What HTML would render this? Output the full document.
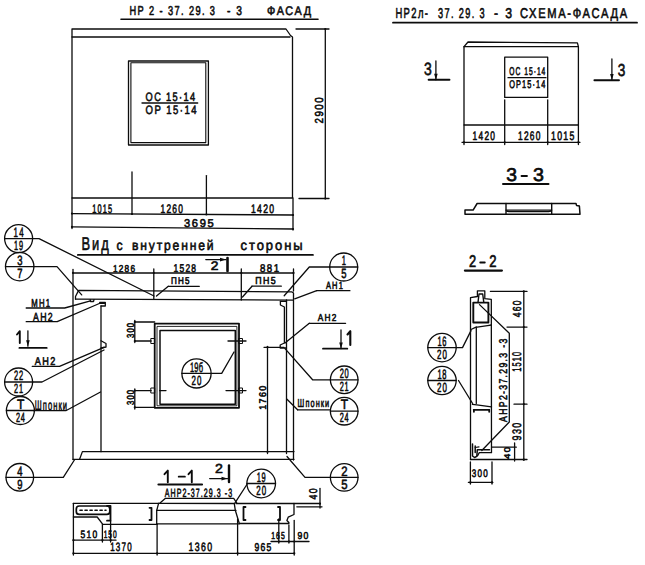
<!DOCTYPE html>
<html><head><meta charset="utf-8"><style>
html,body{margin:0;padding:0;background:#fff;}
svg{display:block;}
text{font-family:"Liberation Sans",sans-serif;fill:#0c0c0c;stroke:#0c0c0c;stroke-width:0.6px;vector-effect:non-scaling-stroke;text-rendering:geometricPrecision;}
</style></head><body>
<svg width="645" height="565" viewBox="0 0 645 565">
<rect width="645" height="565" fill="#fff"/>
<g fill="none" stroke="#0c0c0c" stroke-linejoin="round" stroke-linecap="round">
<text transform="translate(129.5,15.2) scale(0.717,1)" font-size="12.90" letter-spacing="1.93" font-weight="normal">НР 2 - 37. 29. 3</text>
<text transform="translate(227,15.2) scale(0.794,1)" font-size="12.90" letter-spacing="1.93" font-weight="normal">- 3</text>
<text transform="translate(267,14.9) scale(0.870,1)" font-size="12.46" letter-spacing="1.87" font-weight="normal">ФАСАД</text>
<polyline points="121,19.3 318,19.3" stroke-width="1.6"/>
<polyline points="72,198 72,29 286,29 290.5,35.5 292.5,37 292.5,198 72,198" stroke-width="1.3"/>
<polyline points="72,37 290,37" stroke-width="1.3"/>
<rect x="128.5" y="61" width="79.9" height="84" stroke-width="1.3" />
<rect x="130.9" y="62.8" width="74.9" height="79.8" stroke-width="1.1" />
<text transform="translate(145.6,101.2) scale(0.757,1)" font-size="12.17" letter-spacing="1.83" font-weight="normal">ОС 15·14</text>
<polyline points="142,103 197.7,103" stroke-width="1.3"/>
<text transform="translate(145.6,114) scale(0.785,1)" font-size="12.17" letter-spacing="1.83" font-weight="normal">ОР 15·14</text>
<polyline points="132,172 132,214" stroke-width="1.3"/>
<polyline points="206.4,175.6 206.4,214" stroke-width="1.3"/>
<polyline points="72,213.6 293,215" stroke-width="1.3"/>
<polyline points="72,226.9 293,229" stroke-width="1.3"/>
<polyline points="72,198 72,228.5" stroke-width="1.3"/>
<polyline points="293,198 293,230" stroke-width="1.3"/>
<circle cx="72" cy="213.6" r="1.1" fill="#0c0c0c" stroke="none"/>
<circle cx="132" cy="214" r="1.1" fill="#0c0c0c" stroke="none"/>
<circle cx="206.4" cy="214.5" r="1.1" fill="#0c0c0c" stroke="none"/>
<circle cx="293" cy="215" r="1.1" fill="#0c0c0c" stroke="none"/>
<circle cx="72" cy="226.9" r="1.1" fill="#0c0c0c" stroke="none"/>
<circle cx="293" cy="229" r="1.1" fill="#0c0c0c" stroke="none"/>
<text transform="translate(92.3,212.5) scale(0.599,1)" font-size="12.32" letter-spacing="1.85" font-weight="normal">1015</text>
<text transform="translate(160.5,212.5) scale(0.678,1)" font-size="12.32" letter-spacing="1.85" font-weight="normal">1260</text>
<text transform="translate(251,212.5) scale(0.699,1)" font-size="12.32" letter-spacing="1.85" font-weight="normal">1420</text>
<text transform="translate(184,226.5) scale(0.986,1)" font-size="11.30" letter-spacing="1.70" font-weight="normal">3695</text>
<polyline points="296,29 329,29" stroke-width="1.3"/>
<polyline points="299,198.5 329,198.5" stroke-width="1.3"/>
<polyline points="325.3,29 325.3,198.7" stroke-width="1.3"/>
<circle cx="325.3" cy="29" r="1.1" fill="#0c0c0c" stroke="none"/>
<circle cx="325.3" cy="198.5" r="1.1" fill="#0c0c0c" stroke="none"/>
<text transform="translate(322.5,123.5) rotate(-90) scale(0.842,1)" font-size="11.59" letter-spacing="1.74" font-weight="normal">2900</text>
<text transform="translate(395.4,18.3) scale(0.650,1)" font-size="14.49" letter-spacing="2.17" font-weight="normal">НР2л-</text>
<text transform="translate(438,18.3) scale(0.645,1)" font-size="14.20" letter-spacing="2.13" font-weight="normal">37. 29. 3</text>
<text transform="translate(494,18.3) scale(0.864,1)" font-size="14.20" letter-spacing="2.13" font-weight="normal">- 3</text>
<text transform="translate(520,18.3) scale(0.785,1)" font-size="14.20" letter-spacing="2.13" font-weight="normal">СХЕМА-ФАСАДА</text>
<polyline points="393,22.7 637,22.7" stroke-width="1.8"/>
<rect x="464" y="46.7" width="114.39999999999998" height="78.3" stroke-width="1.3" />
<polyline points="464,46.7 468,42 577.4,42.8 578.4,46.7" stroke-width="1.3"/>
<rect x="504.7" y="57.2" width="43.00000000000006" height="40.2" stroke-width="1.3" />
<text transform="translate(509.3,75.3) scale(0.592,1)" font-size="11.30" letter-spacing="1.70" font-weight="normal">ОС 15·14</text>
<polyline points="508,77.7 546,77.7" stroke-width="1.3"/>
<text transform="translate(509.3,88) scale(0.659,1)" font-size="11.16" letter-spacing="1.67" font-weight="normal">ОР15·14</text>
<polyline points="464,125 464,144.5" stroke-width="1.3"/>
<circle cx="464" cy="142.3" r="1.1" fill="#0c0c0c" stroke="none"/>
<polyline points="504.7,99.8 504.7,144.5" stroke-width="1.3"/>
<circle cx="504.7" cy="142.3" r="1.1" fill="#0c0c0c" stroke="none"/>
<polyline points="547.7,99.8 547.7,144.5" stroke-width="1.3"/>
<circle cx="547.7" cy="142.3" r="1.1" fill="#0c0c0c" stroke="none"/>
<polyline points="578.4,125 578.4,144.5" stroke-width="1.3"/>
<circle cx="578.4" cy="142.3" r="1.1" fill="#0c0c0c" stroke="none"/>
<polyline points="462,142.3 580,142.3" stroke-width="1.3"/>
<text transform="translate(472.6,140.4) scale(0.678,1)" font-size="12.32" letter-spacing="1.85" font-weight="normal">1420</text>
<text transform="translate(518,140.4) scale(0.681,1)" font-size="12.32" letter-spacing="1.85" font-weight="normal">1260</text>
<text transform="translate(551,140.4) scale(0.708,1)" font-size="12.32" letter-spacing="1.85" font-weight="normal">1015</text>
<text transform="translate(424,75.1) scale(0.785,1)" font-size="17.83" letter-spacing="0.00" font-weight="normal">3</text>
<polyline points="435.9,61 435.9,79.8" stroke-width="1.3"/>
<polygon points="434.09999999999997,73.8 437.7,73.8 435.9,79.8" fill="#0c0c0c" stroke="none"/>
<polyline points="428.6,79.8 449.5,79.8" stroke-width="1.9"/>
<polyline points="611.9,59 611.9,80" stroke-width="1.3"/>
<polygon points="610.1,74 613.6999999999999,74 611.9,80" fill="#0c0c0c" stroke="none"/>
<text transform="translate(617.8,76) scale(0.784,1)" font-size="17.39" letter-spacing="0.00" font-weight="normal">3</text>
<polyline points="594.4,80.3 619,80.3" stroke-width="1.9"/>
<text transform="translate(506.2,181.3) scale(1.040,1)" font-size="18.55" letter-spacing="0.00" font-weight="normal" style="stroke-width:0.7px">3</text>
<polyline points="521.5,176 527,176" stroke-width="1.8"/>
<text transform="translate(533,181.3) scale(1.060,1)" font-size="18.55" letter-spacing="0.00" font-weight="normal" style="stroke-width:0.7px">3</text>
<polyline points="503,184 548.5,184" stroke-width="2"/>
<polygon points="465,214.3 465,210.1 473.1,210.1 477.1,203.5 576,203.5 576.6,205.6 579.4,206.1 580,214.3" stroke-width="1.5"/>
<polyline points="506,203.5 506,214.3" stroke-width="1.4"/>
<polyline points="551.7,203.5 551.7,214.3" stroke-width="1.4"/>
<polyline points="506,210.1 551.7,210.1" stroke-width="1.4"/>
<polyline points="506.5,211 509,211.6 548.5,211.6 551,211" stroke-width="1.3"/>
<text transform="translate(469,267) scale(0.760,1)" font-size="16.96" letter-spacing="0.00" font-weight="normal" style="stroke-width:0.7px">2</text>
<polyline points="480.2,262.5 484.8,262.5" stroke-width="1.8"/>
<text transform="translate(489.3,267) scale(0.771,1)" font-size="16.96" letter-spacing="0.00" font-weight="normal" style="stroke-width:0.7px">2</text>
<polyline points="464.9,270.6 501.9,270.6" stroke-width="2.2"/>
<polyline points="470.5,459.5 470.5,297.7 477.4,296.5 477.4,290.8 484.8,290.8 484.8,298.7 491.3,299.3 491.5,452.7 479.3,452.7 477.5,455.8" stroke-width="1.3"/>
<polyline points="470.5,459.5 527,459.5" stroke-width="1.3"/>
<rect x="473.3" y="302.6" width="15.099999999999966" height="19.899999999999977" stroke-width="1.9" />
<polyline points="478,302.4 479,294 482.7,294 483.8,302.4" stroke-width="1.4"/>
<polyline points="471,329.5 475.5,327.3 487.5,325.6 491.3,325" stroke-width="1.3"/>
<polyline points="476.3,327 476.3,403.4" stroke-width="1.3"/>
<polyline points="479.5,304.6 509.3,333.3 509.3,422 481.8,450.5" stroke-width="1.3"/>
<text transform="translate(507.2,421.9) rotate(-90) scale(0.770,1)" font-size="11.30" letter-spacing="1.70" font-weight="normal">АНР2-37.29.3 -3</text>
<polyline points="490.4,291.4 527,291.4" stroke-width="1.3"/>
<polyline points="507,327.1 527,327.1" stroke-width="1.3"/>
<polyline points="514,404.2 527,404.2" stroke-width="1.3"/>
<polyline points="523.8,291.4 523.8,460" stroke-width="1.3"/>
<circle cx="523.8" cy="291.4" r="1.1" fill="#0c0c0c" stroke="none"/>
<circle cx="523.8" cy="327.1" r="1.1" fill="#0c0c0c" stroke="none"/>
<circle cx="523.8" cy="404.2" r="1.1" fill="#0c0c0c" stroke="none"/>
<circle cx="523.8" cy="459.7" r="1.1" fill="#0c0c0c" stroke="none"/>
<text transform="translate(520.7,317.2) rotate(-90) scale(0.732,1)" font-size="11.59" letter-spacing="1.74" font-weight="normal">460</text>
<text transform="translate(521,371.7) rotate(-90) scale(0.591,1)" font-size="12.46" letter-spacing="1.87" font-weight="normal">1510</text>
<text transform="translate(520.5,440.4) rotate(-90) scale(0.731,1)" font-size="12.32" letter-spacing="1.85" font-weight="normal">930</text>
<polyline points="491.7,447.2 516.3,447.2" stroke-width="1.3"/>
<polyline points="514.6,443 514.6,461" stroke-width="1.3"/>
<text transform="translate(510.4,459) rotate(-90) scale(1.150,1)" font-size="8.19" letter-spacing="1.33" font-weight="normal">40</text>
<text transform="translate(471.8,476.5) scale(0.743,1)" font-size="10.87" letter-spacing="1.63" font-weight="normal">300</text>
<polyline points="468.4,482.4 492.8,482.4" stroke-width="1.3"/>
<polyline points="470.4,462 470.4,484" stroke-width="1.3"/>
<polyline points="492,462 492,484" stroke-width="1.3"/>
<circle cx="470.4" cy="482.4" r="1.1" fill="#0c0c0c" stroke="none"/>
<circle cx="492" cy="482.4" r="1.1" fill="#0c0c0c" stroke="none"/>
<polyline points="472.4,404.3 476.8,404.9 491.5,406.8" stroke-width="1.3"/>
<polyline points="473.7,409.8 489.2,409.8" stroke-width="1.8"/>
<polyline points="489.2,409.8 489.2,411.8" stroke-width="1.8"/>
<polyline points="473.9,409.8 473.9,411.8" stroke-width="1.8"/>
<polyline points="472.5,444 472.5,456 474.5,457.5 476.8,456.3 477.3,449.8 489.5,449.8" stroke-width="1.5"/>
<polyline points="475.2,446 475.2,452.5" stroke-width="1.5"/>
<polyline points="475.2,447.5 479,446.8" stroke-width="1.2"/>
<circle cx="442" cy="347.6" r="14.2" stroke-width="1.3"/>
<polyline points="427.8,347.6 456.2,347.6" stroke-width="1.3"/>
<text transform="translate(437.5,345.8) scale(0.550,1)" font-size="13.62" letter-spacing="1.22" font-weight="normal">16</text>
<text transform="translate(437.0,358.8) scale(0.594,1)" font-size="13.33" letter-spacing="2.00" font-weight="normal">20</text>
<circle cx="442" cy="380.5" r="14.2" stroke-width="1.3"/>
<polyline points="427.8,380.5 456.2,380.5" stroke-width="1.3"/>
<text transform="translate(437.5,378.7) scale(0.550,1)" font-size="13.62" letter-spacing="1.22" font-weight="normal">18</text>
<text transform="translate(437.0,391.7) scale(0.594,1)" font-size="13.33" letter-spacing="2.00" font-weight="normal">20</text>
<polyline points="456.2,347.6 462.5,347.6 471,330.6" stroke-width="1.3"/>
<polyline points="458.5,380.5 472.6,403.5" stroke-width="1.3"/>
<text transform="translate(81.6,250) scale(0.695,1)" font-size="18.55" letter-spacing="2.78" font-weight="normal">Вид</text>
<text transform="translate(116.5,250) scale(0.888,1)" font-size="13.77" letter-spacing="0.00" font-weight="normal">с</text>
<text transform="translate(132,250) scale(0.880,1)" font-size="13.77" letter-spacing="2.07" font-weight="normal">внутренней</text>
<text transform="translate(240.5,250) scale(0.943,1)" font-size="13.77" letter-spacing="2.07" font-weight="normal">стороны</text>
<polyline points="77.8,254.9 313,254.9" stroke-width="1.7"/>
<polyline points="73,273 293.5,273" stroke-width="1.3"/>
<polyline points="73,269.5 73,459.6" stroke-width="1.3"/>
<polyline points="153.8,269 153.8,299.4" stroke-width="1.3"/>
<polyline points="241.3,269 241.3,300" stroke-width="1.3"/>
<polyline points="293.5,269 293.5,291" stroke-width="1.3"/>
<circle cx="73" cy="272.9" r="1.1" fill="#0c0c0c" stroke="none"/>
<circle cx="153.8" cy="272.9" r="1.1" fill="#0c0c0c" stroke="none"/>
<circle cx="241.3" cy="272.9" r="1.1" fill="#0c0c0c" stroke="none"/>
<circle cx="293.5" cy="272.9" r="1.1" fill="#0c0c0c" stroke="none"/>
<text transform="translate(113,271.5) scale(0.822,1)" font-size="10.00" letter-spacing="1.50" font-weight="normal">1286</text>
<text transform="translate(173.5,271.5) scale(0.755,1)" font-size="11.16" letter-spacing="1.67" font-weight="normal">1528</text>
<text transform="translate(260,271.5) scale(0.866,1)" font-size="11.16" letter-spacing="1.67" font-weight="normal">881</text>
<text transform="translate(210.7,269.5) scale(1.123,1)" font-size="12.32" letter-spacing="0.00" font-weight="normal">2</text>
<polyline points="205.8,259.6 226,259.6" stroke-width="1.3"/>
<polygon points="220,257.8 220,261.40000000000003 226,259.6" fill="#0c0c0c" stroke="none"/>
<polyline points="227.5,258 227.5,271" stroke-width="2.6"/>
<text transform="translate(171,284) scale(0.818,1)" font-size="9.86" letter-spacing="1.48" font-weight="normal">ПН5</text>
<polyline points="168.3,286.3 199.3,286.3" stroke-width="1.3"/>
<polyline points="168.3,286.3 156.5,296" stroke-width="1.3"/>
<text transform="translate(255.3,284.2) scale(0.872,1)" font-size="10.14" letter-spacing="1.52" font-weight="normal">ПН5</text>
<polyline points="252,286.2 281.3,286.2" stroke-width="1.3"/>
<polyline points="252,286.2 242.5,297" stroke-width="1.3"/>
<polyline points="75.5,299.2 75.5,296.5 78.6,290.4 292,291.9 293.5,293 293.5,460" stroke-width="1.3"/>
<polyline points="75.5,299.1 293.5,300.1" stroke-width="1.3"/>
<polyline points="90.2,299.6 90.5,301.5 93.5,301.5 94,299.6" stroke-width="1.3"/>
<polyline points="99.7,302.3 105.3,302.3 105.3,306 101,306" stroke-width="1.3"/>
<polyline points="99.7,303.2 104.5,303.2" stroke-width="1.6"/>
<polyline points="101,306 101,451.7" stroke-width="1.3"/>
<polyline points="101,340.8 106,343.5 106,347 101,348" stroke-width="1.3"/>
<polyline points="280.4,301.3 286.5,301.3" stroke-width="1.3"/>
<polyline points="280.4,301.3 280.4,305 284.4,307 284.4,343 280.2,345 280.2,348 286.5,348" stroke-width="1.3"/>
<polyline points="286.5,300 286.5,453.5" stroke-width="1.3"/>
<polyline points="79.6,459.3 82.4,451.6 294,451.6" stroke-width="1.3"/>
<polyline points="73,459.3 294,459.3" stroke-width="1.3"/>
<rect x="154.7" y="323.6" width="84.30000000000001" height="84.19999999999999" stroke-width="1.8" />
<rect x="157.4" y="326.4" width="79.5" height="79.40000000000003" stroke-width="0.9" />
<rect x="160" y="330.4" width="75.30000000000001" height="73.80000000000001" stroke-width="1.5" />
<rect x="151.2" y="338.5" width="3.5" height="5.0" stroke-width="1" />
<rect x="151.2" y="388" width="3.5" height="5" stroke-width="1" />
<rect x="239" y="338.5" width="3.5" height="5.0" stroke-width="1" />
<rect x="239" y="388" width="3.5" height="5" stroke-width="1" />
<polyline points="228,341 246,341" stroke-width="1.3"/>
<polyline points="159.6,390.6 166,390.6" stroke-width="1.3"/>
<polyline points="226,390.6 246,390.6" stroke-width="1.3"/>
<polyline points="134.8,322 154.7,322" stroke-width="1.3"/>
<polyline points="134.8,341 151.2,341" stroke-width="1.3"/>
<polyline points="134.8,320.5 134.8,342.5" stroke-width="1.3"/>
<circle cx="134.8" cy="322" r="1.1" fill="#0c0c0c" stroke="none"/>
<circle cx="134.8" cy="341" r="1.1" fill="#0c0c0c" stroke="none"/>
<text transform="translate(133.5,338) rotate(-90) scale(0.752,1)" font-size="10.14" letter-spacing="1.52" font-weight="normal">300</text>
<polyline points="134.8,390.6 151.2,390.6" stroke-width="1.3"/>
<polyline points="134.8,407.3 154.7,407.3" stroke-width="1.3"/>
<polyline points="134.8,389 134.8,409" stroke-width="1.3"/>
<circle cx="134.8" cy="390.6" r="1.1" fill="#0c0c0c" stroke="none"/>
<circle cx="134.8" cy="407.3" r="1.1" fill="#0c0c0c" stroke="none"/>
<text transform="translate(133.5,405) rotate(-90) scale(0.752,1)" font-size="10.14" letter-spacing="1.52" font-weight="normal">300</text>
<circle cx="196.5" cy="373.4" r="14.6" stroke-width="1.3"/>
<polyline points="181.9,373.4 211.1,373.4" stroke-width="1.3"/>
<text transform="translate(190.0,371.59999999999997) scale(0.550,1)" font-size="13.62" letter-spacing="0.35" font-weight="normal">19б</text>
<text transform="translate(191.5,384.59999999999997) scale(0.594,1)" font-size="13.33" letter-spacing="2.00" font-weight="normal">20</text>
<polyline points="211.7,373.3 221.7,373.3 234,352" stroke-width="1.3"/>
<polyline points="264,347.3 284,347.3" stroke-width="1.3"/>
<polyline points="267.5,346.5 267.5,453.5" stroke-width="1.3"/>
<circle cx="267.5" cy="347.3" r="1.1" fill="#0c0c0c" stroke="none"/>
<circle cx="267.5" cy="451.8" r="1.1" fill="#0c0c0c" stroke="none"/>
<text transform="translate(266.2,409.7) rotate(-90) scale(0.921,1)" font-size="9.71" letter-spacing="1.46" font-weight="normal">1760</text>
<circle cx="18.6" cy="238.6" r="14" stroke-width="1.3"/>
<polyline points="4.600000000000001,238.6 32.6,238.6" stroke-width="1.3"/>
<text transform="translate(13.600000000000001,236.79999999999998) scale(0.582,1)" font-size="13.62" letter-spacing="2.04" font-weight="normal">14</text>
<text transform="translate(14.100000000000001,249.79999999999998) scale(0.550,1)" font-size="13.33" letter-spacing="1.54" font-weight="normal">19</text>
<polyline points="32.6,238.6 39,238.6 154,296" stroke-width="1.3"/>
<circle cx="19.7" cy="266.6" r="14.2" stroke-width="1.3"/>
<polyline points="5.5,266.6 33.9,266.6" stroke-width="1.3"/>
<text transform="translate(17.2,264.8) scale(0.695,1)" font-size="13.62" letter-spacing="0.00" font-weight="normal">3</text>
<text transform="translate(17.2,277.8) scale(0.709,1)" font-size="13.33" letter-spacing="0.00" font-weight="normal">7</text>
<polyline points="33.9,266.6 57,266.6 81.7,294.9" stroke-width="1.3"/>
<text transform="translate(31.3,307) scale(0.669,1)" font-size="11.59" letter-spacing="1.74" font-weight="normal">МН1</text>
<polyline points="26.2,308 64.7,308 90.5,300.8" stroke-width="1.3"/>
<text transform="translate(33,320.6) scale(0.745,1)" font-size="11.74" letter-spacing="1.76" font-weight="normal">АН2</text>
<polyline points="26.2,321.7 57.2,321.7 100.5,303" stroke-width="1.3"/>
<polyline points="17,334.5 19.8,331.2 19.8,343" stroke-width="1.9"/>
<polyline points="27.9,330.8 27.9,346.2" stroke-width="1.3"/>
<polygon points="26.099999999999998,340.2 29.7,340.2 27.9,346.2" fill="#0c0c0c" stroke="none"/>
<polyline points="19.4,347.9 46.7,347.9" stroke-width="1.8"/>
<text transform="translate(34.7,365) scale(0.808,1)" font-size="11.30" letter-spacing="1.70" font-weight="normal">АН2</text>
<polyline points="32.2,366.3 59.5,366.3 104,347.4" stroke-width="1.3"/>
<circle cx="18.6" cy="382" r="14" stroke-width="1.3"/>
<polyline points="4.600000000000001,382 32.6,382" stroke-width="1.3"/>
<text transform="translate(14.100000000000001,380.2) scale(0.550,1)" font-size="13.62" letter-spacing="1.22" font-weight="normal">22</text>
<text transform="translate(14.100000000000001,393.2) scale(0.550,1)" font-size="13.33" letter-spacing="1.54" font-weight="normal">21</text>
<polyline points="32.6,382 42,382 104,350" stroke-width="1.3"/>
<circle cx="20.4" cy="410.5" r="14" stroke-width="1.3"/>
<polyline points="6.399999999999999,410.5 34.4,410.5" stroke-width="1.3"/>
<text transform="translate(16.9,408.7) scale(0.885,1)" font-size="13.62" letter-spacing="0.00" font-weight="normal">Т</text>
<text transform="translate(15.899999999999999,421.7) scale(0.550,1)" font-size="13.33" letter-spacing="1.54" font-weight="normal">24</text>
<text transform="translate(34.7,409.5) scale(0.550,1)" font-size="13.77" letter-spacing="1.95" font-weight="normal">Шпонки</text>
<polyline points="33.8,410.7 65.8,410.7 100.5,392" stroke-width="1.3"/>
<circle cx="19.8" cy="477.3" r="13.8" stroke-width="1.3"/>
<polyline points="6.0,477.3 33.6,477.3" stroke-width="1.3"/>
<text transform="translate(17.3,475.5) scale(0.695,1)" font-size="13.62" letter-spacing="0.00" font-weight="normal">4</text>
<text transform="translate(17.3,488.5) scale(0.709,1)" font-size="13.33" letter-spacing="0.00" font-weight="normal">9</text>
<polyline points="33.6,477.3 63.3,477.3 74.4,460" stroke-width="1.3"/>
<circle cx="343.7" cy="267" r="14" stroke-width="1.3"/>
<polyline points="329.7,267 357.7,267" stroke-width="1.3"/>
<text transform="translate(341.7,265.2) scale(0.556,1)" font-size="13.62" letter-spacing="0.00" font-weight="normal">1</text>
<text transform="translate(341.2,278.2) scale(0.709,1)" font-size="13.33" letter-spacing="0.00" font-weight="normal">5</text>
<polyline points="329.7,267 309.3,267 284.2,295.8" stroke-width="1.3"/>
<text transform="translate(326,289.3) scale(0.707,1)" font-size="10.58" letter-spacing="1.59" font-weight="normal">АН1</text>
<polyline points="316.7,290.7 349.9,290.7" stroke-width="1.3"/>
<polyline points="316.7,290.7 294.7,298.8" stroke-width="1.3"/>
<text transform="translate(317.7,321.3) scale(0.828,1)" font-size="10.00" letter-spacing="1.50" font-weight="normal">АН2</text>
<polyline points="309.3,323.3 345.6,323.3" stroke-width="1.3"/>
<polyline points="309.3,323.3 285,343" stroke-width="1.3"/>
<polyline points="341,330 341,348.6" stroke-width="1.3"/>
<polygon points="339.2,342.6 342.8,342.6 341,348.6" fill="#0c0c0c" stroke="none"/>
<polyline points="347.5,334.5 350.3,331.2 350.3,345" stroke-width="2.1"/>
<polyline points="323,348.7 347.3,348.7" stroke-width="1.8"/>
<circle cx="344.2" cy="379.8" r="13.8" stroke-width="1.3"/>
<polyline points="330.4,379.8 358.0,379.8" stroke-width="1.3"/>
<text transform="translate(339.7,378.0) scale(0.550,1)" font-size="13.62" letter-spacing="1.22" font-weight="normal">20</text>
<text transform="translate(339.7,391.0) scale(0.550,1)" font-size="13.33" letter-spacing="1.54" font-weight="normal">21</text>
<polyline points="330.4,379.8 312.6,379.8 285,348.6" stroke-width="1.3"/>
<circle cx="344.2" cy="411.2" r="13.8" stroke-width="1.3"/>
<polyline points="330.4,411.2 358.0,411.2" stroke-width="1.3"/>
<text transform="translate(340.7,409.4) scale(0.885,1)" font-size="13.62" letter-spacing="0.00" font-weight="normal">Т</text>
<text transform="translate(339.7,422.4) scale(0.550,1)" font-size="13.33" letter-spacing="1.54" font-weight="normal">24</text>
<text transform="translate(297.6,407.3) scale(0.633,1)" font-size="11.59" letter-spacing="1.74" font-weight="normal">Шпонки</text>
<polyline points="297.6,409.8 330.4,409.8" stroke-width="1.3"/>
<polyline points="297.6,409.8 287,399.3" stroke-width="1.3"/>
<circle cx="344.2" cy="477.4" r="13.8" stroke-width="1.3"/>
<polyline points="330.4,477.4 358.0,477.4" stroke-width="1.3"/>
<text transform="translate(341.2,475.59999999999997) scale(0.833,1)" font-size="13.62" letter-spacing="0.00" font-weight="normal">2</text>
<text transform="translate(341.2,488.59999999999997) scale(0.851,1)" font-size="13.33" letter-spacing="0.00" font-weight="normal">5</text>
<polyline points="287,456.5 305,477.4 330.4,477.4" stroke-width="1.3"/>
<polyline points="164.5,474.2 167.8,470.6 167.8,482.2" stroke-width="1.9"/>
<polyline points="178.7,476.7 184.9,476.7" stroke-width="1.8"/>
<polyline points="188.5,474.2 191.8,470.6 191.8,482.2" stroke-width="1.9"/>
<polyline points="158.5,484.5 202,484.5" stroke-width="2.2"/>
<text transform="translate(215,473) scale(1.089,1)" font-size="13.04" letter-spacing="0.00" font-weight="normal">2</text>
<polyline points="209.7,478.6 227.5,478.6" stroke-width="1.3"/>
<polygon points="221.5,476.8 221.5,480.40000000000003 227.5,478.6" fill="#0c0c0c" stroke="none"/>
<polyline points="229,465.5 229,482" stroke-width="2.4"/>
<text transform="translate(164.7,496.9) scale(0.588,1)" font-size="12.03" letter-spacing="1.80" font-weight="normal">АНР2-37.29.3 -3</text>
<polyline points="73.4,503.3 158.6,503.3" stroke-width="1.3"/>
<polyline points="236,503.5 294,503.5 294,514.5 288.2,517.2 286.9,520.5 288.9,522.5 288.9,523.5 239.3,523.5 235.3,510.3 234.3,503.7" stroke-width="1.3"/>
<polyline points="158.6,503.3 234.3,503.5" stroke-width="1.3"/>
<polyline points="156.7,510.3 236,510.3" stroke-width="1.3"/>
<polyline points="156.7,523.8 239.3,523.8" stroke-width="1.3"/>
<polyline points="158.6,503.3 156.7,510.5 156.7,524.4" stroke-width="1.3"/>
<polyline points="73.4,503.3 73.4,555" stroke-width="1.3"/>
<polyline points="73.4,517 97.2,517 102.8,524.4 157,524.4" stroke-width="1.3"/>
<polyline points="160,503 165.5,498.3 233.7,498.3 236.8,503" stroke-width="1.3"/>
<rect x="76.3" y="506" width="33.5" height="8.4" rx="3" stroke-width="1.7"/>
<line x1="80" y1="510.2" x2="106" y2="510.2" stroke-width="1.6" stroke-dasharray="2.2 2.8"/>
<polyline points="107,505.8 110.5,505.8 110.5,520.7 107,520.7" stroke-width="1.8"/>
<polyline points="149.5,507.8 151.5,507.8 151.5,520 149.5,520" stroke-width="1.8"/>
<polyline points="245.5,507 243.5,507 243.5,520 245.5,520" stroke-width="1.8"/>
<polyline points="278,507 280,507 280,520 278,520" stroke-width="1.8"/>
<polyline points="294,503.5 319.5,503.5" stroke-width="1.3"/>
<polyline points="296.8,506.8 322,506.8" stroke-width="1.3"/>
<polyline points="320,488.5 320,508" stroke-width="1.3"/>
<circle cx="320" cy="503.7" r="1.1" fill="#0c0c0c" stroke="none"/>
<text transform="translate(316.7,499.4) rotate(-90) scale(0.774,1)" font-size="11.16" letter-spacing="1.67" font-weight="normal">40</text>
<polyline points="73.4,540.2 116,540.2" stroke-width="1.3"/>
<polyline points="102.4,524.4 102.4,542" stroke-width="1.3"/>
<polyline points="110.6,520.7 110.6,542" stroke-width="1.3"/>
<circle cx="73.4" cy="540.2" r="1.1" fill="#0c0c0c" stroke="none"/>
<circle cx="102.4" cy="540.2" r="1.1" fill="#0c0c0c" stroke="none"/>
<circle cx="110.6" cy="540.2" r="1.1" fill="#0c0c0c" stroke="none"/>
<text transform="translate(80.5,538.4) scale(0.791,1)" font-size="10.72" letter-spacing="1.61" font-weight="normal">510</text>
<text transform="translate(103.7,538.4) scale(0.616,1)" font-size="10.72" letter-spacing="1.61" font-weight="normal">150</text>
<polyline points="73.4,553.3 294.3,553.3" stroke-width="1.3"/>
<polyline points="157.1,524.4 157.1,555" stroke-width="1.3"/>
<polyline points="237.6,519 237.6,555" stroke-width="1.3"/>
<polyline points="294.2,520.5 294.2,555" stroke-width="1.3"/>
<circle cx="73.4" cy="553.3" r="1.1" fill="#0c0c0c" stroke="none"/>
<circle cx="157.1" cy="553.3" r="1.1" fill="#0c0c0c" stroke="none"/>
<circle cx="237.6" cy="553.3" r="1.1" fill="#0c0c0c" stroke="none"/>
<circle cx="294.3" cy="553.3" r="1.1" fill="#0c0c0c" stroke="none"/>
<text transform="translate(110.2,551.4) scale(0.658,1)" font-size="12.17" letter-spacing="1.83" font-weight="normal">1370</text>
<text transform="translate(188.6,551.2) scale(0.719,1)" font-size="12.17" letter-spacing="1.83" font-weight="normal">1360</text>
<text transform="translate(254.4,551) scale(0.760,1)" font-size="11.30" letter-spacing="1.70" font-weight="normal">965</text>
<polyline points="271,541.5 309,541.5" stroke-width="1.3"/>
<polyline points="278.8,519 278.8,543" stroke-width="1.3"/>
<polyline points="288.9,525 288.9,543" stroke-width="1.3"/>
<circle cx="278.8" cy="541.5" r="1.1" fill="#0c0c0c" stroke="none"/>
<circle cx="289" cy="541.5" r="1.1" fill="#0c0c0c" stroke="none"/>
<circle cx="294.3" cy="541.5" r="1.1" fill="#0c0c0c" stroke="none"/>
<text transform="translate(271.3,539.3) scale(0.672,1)" font-size="10.14" letter-spacing="1.52" font-weight="normal">165</text>
<text transform="translate(297.4,539.3) scale(0.852,1)" font-size="10.14" letter-spacing="1.52" font-weight="normal">90</text>
<circle cx="261.2" cy="483.5" r="14.3" stroke-width="1.3"/>
<polyline points="246.89999999999998,483.5 275.5,483.5" stroke-width="1.3"/>
<text transform="translate(256.7,481.7) scale(0.550,1)" font-size="13.62" letter-spacing="1.22" font-weight="normal">19</text>
<text transform="translate(256.2,494.7) scale(0.594,1)" font-size="13.33" letter-spacing="2.00" font-weight="normal">20</text>
<polyline points="246.9,484.5 235,502.8" stroke-width="1.3"/>
</g>
</svg>
</body></html>
